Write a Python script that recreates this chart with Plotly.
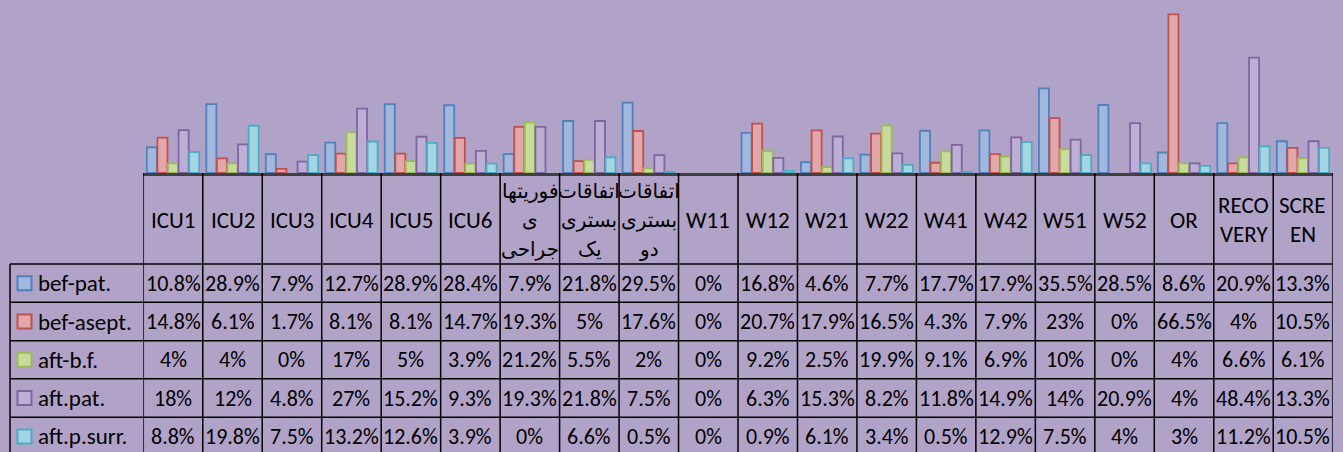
import plotly.graph_objects as go

categories = ["ICU1", "ICU2", "ICU3", "ICU4", "ICU5", "ICU6",
              "فوریتها\nی\nجراحی", "اتفاقات\nبستری\nیک", "اتفاقات\nبستری\nدو",
              "W11", "W12", "W21", "W22", "W41", "W42", "W51", "W52", "OR",
              "RECO\nVERY", "SCRE\nEN"]

series_names = ["bef-pat.", "bef-asept.", "aft-b.f.", "aft.pat.", "aft.p.surr."]

bef_pat = [10.8, 28.9, 7.9, 12.7, 28.9, 28.4, 7.9, 21.8, 29.5, 0, 16.8, 4.6, 7.7, 17.7, 17.9, 35.5, 28.5, 8.6, 20.9, 13.3]
bef_asept = [14.8, 6.1, 1.7, 8.1, 8.1, 14.7, 19.3, 5, 17.6, 0, 20.7, 17.9, 16.5, 4.3, 7.9, 23, 0, 66.5, 4, 10.5]
aft_bf = [4, 4, 0, 17, 5, 3.9, 21.2, 5.5, 2, 0, 9.2, 2.5, 19.9, 9.1, 6.9, 10, 0, 4, 6.6, 6.1]
aft_pat = [18, 12, 4.8, 27, 15.2, 9.3, 19.3, 21.8, 7.5, 0, 6.3, 15.3, 8.2, 11.8, 14.9, 14, 20.9, 4, 48.4, 13.3]
aft_psurr = [8.8, 19.8, 7.5, 13.2, 12.6, 3.9, 0, 6.6, 0.5, 0, 0.9, 6.1, 3.4, 0.5, 12.9, 7.5, 4, 3, 11.2, 10.5]

series_values = [bef_pat, bef_asept, aft_bf, aft_pat, aft_psurr]
fill_colors = ["#a2b7dc", "#e2a7a9", "#c8da9c", "#bdafd3", "#a3d5e3"]
line_colors = ["#4f81bd", "#c0504d", "#9bbb59", "#8064a2", "#4bacc6"]

W, H = 1343, 452
BG = "#b1a3c8"
FONT = "Calibri, Carlito, Lato, 'DejaVu Sans', sans-serif"
AR_FONT = "'DejaVu Sans', sans-serif"

def px(x):
    return x / W

def py(y):
    return 1 - y / H

x_left, x_right = 143.3, 1332.7
base_y, top_y = 173, 6
row_lines = [264, 302.3, 340.7, 378.7, 417.3, 455.6]
legend_left = 10

x_cats = [c.replace("\n", " ") for c in categories]

fig = go.Figure()
for name, vals, fc, lc in zip(series_names, series_values, fill_colors, line_colors):
    fig.add_trace(go.Bar(
        x=x_cats, y=vals, name=name,
        marker=dict(color=fc, line=dict(color=lc, width=[1.8 if v > 0 else 0 for v in vals])),
        showlegend=False,
    ))

shapes = []
annotations = []
# vertical table lines
for i in range(len(categories) + 1):
    shapes.append(dict(type="line", xref="x", yref="paper", x0=i - 0.5, x1=i - 0.5,
                       y0=py(base_y), y1=py(row_lines[-1]),
                       line=dict(color="black", width=1.5)))
shapes.append(dict(type="line", xref="paper", yref="paper", x0=px(legend_left), x1=px(legend_left),
                   y0=py(row_lines[0]), y1=py(row_lines[-1]), line=dict(color="black", width=1.5)))
# horizontal table lines
for ry in row_lines[:-1]:
    shapes.append(dict(type="line", xref="paper", yref="paper", x0=px(legend_left), x1=px(x_right),
                       y0=py(ry), y1=py(ry), line=dict(color="black", width=1.5)))

# header labels
head_mid = (base_y + row_lines[0]) / 2 + 1
for i, cat in enumerate(categories):
    lines = cat.split("\n")
    n = len(lines)
    arabic = any("\u0600" <= ch <= "\u06ff" for ch in cat)
    step = 29 if arabic else 30
    for k, ln in enumerate(lines):
        yy = head_mid + (k - (n - 1) / 2) * step
        annotations.append(dict(x=i, y=py(yy), xref="x", yref="paper", text=ln,
                                showarrow=False, xanchor="center", yanchor="middle",
                                font=dict(family=AR_FONT if arabic else FONT,
                                          size=20 if arabic else 23, color="black")))

# table rows
for r, (name, vals, fc, lc) in enumerate(zip(series_names, series_values, fill_colors, line_colors)):
    cy = (row_lines[r] + row_lines[r + 1]) / 2
    shapes.append(dict(type="rect", xref="paper", yref="paper",
                       x0=px(17.5), x1=px(31.5), y0=py(cy + 7), y1=py(cy - 7),
                       fillcolor=fc, line=dict(color=lc, width=2)))
    annotations.append(dict(x=px(36), y=py(cy), xref="paper", yref="paper", text=name,
                            showarrow=False, xanchor="left", yanchor="middle",
                            font=dict(family=FONT, size=23, color="black")))
    for i, v in enumerate(vals):
        annotations.append(dict(x=i, y=py(cy), xref="x", yref="paper", text=f"{v:g}%",
                                showarrow=False, xanchor="center", yanchor="middle",
                                font=dict(family=FONT, size=22, color="black")))

fig.update_layout(
    width=W, height=H,
    margin=dict(l=0, r=0, t=0, b=0, pad=0),
    paper_bgcolor=BG, plot_bgcolor=BG,
    barmode="group", bargap=0.11, bargroupgap=0.05,
    xaxis=dict(domain=[px(x_left), px(x_right)], range=[-0.5, len(categories) - 0.5],
               showticklabels=False, ticks="", showgrid=False, zeroline=False,
               showline=True, linecolor="#404040", linewidth=2.5, fixedrange=True),
    yaxis=dict(domain=[py(base_y), py(top_y)], range=[0, 70], visible=False,
               showgrid=False, zeroline=False, fixedrange=True),
    shapes=shapes, annotations=annotations,
)

fig.write_html("out.html", config={"displayModeBar": False},
               post_script="document.body.style.margin='0';document.body.style.overflow='hidden';")
